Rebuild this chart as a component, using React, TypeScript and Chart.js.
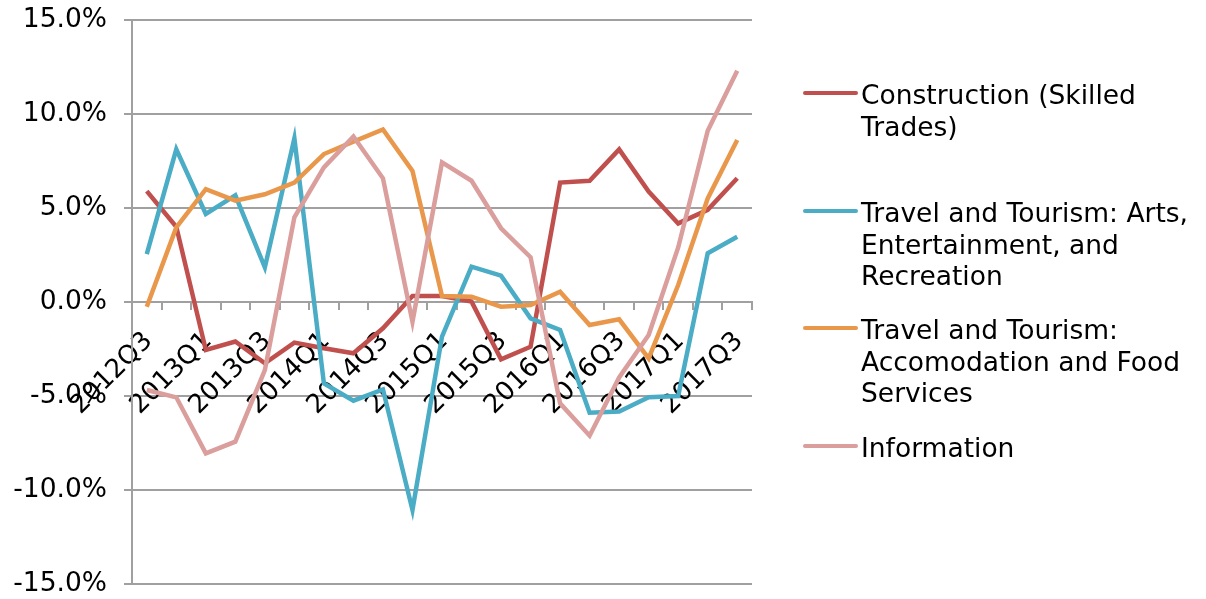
import React, { useEffect, useRef } from "react";
import { Chart, registerables } from "chart.js";

Chart.register(...registerables);

const categories = [
  "2012Q3", "2012Q4", "2013Q1", "2013Q2", "2013Q3", "2013Q4", "2014Q1",
  "2014Q2", "2014Q3", "2014Q4", "2015Q1", "2015Q2", "2015Q3", "2015Q4",
  "2016Q1", "2016Q2", "2016Q3", "2016Q4", "2017Q1", "2017Q2", "2017Q3",
];

const construction = [5.9, 4.0, -2.55, -2.1, -3.26, -2.16, -2.46, -2.73, -1.4, 0.32, 0.32, 0.02, -3.05, -2.38, 6.35, 6.45, 8.12, 5.87, 4.18, 4.9, 6.58];
const artsEntertainment = [2.55, 8.12, 4.68, 5.67, 1.84, 8.7, -4.33, -5.25, -4.65, -11.06, -1.84, 1.88, 1.4, -0.87, -1.49, -5.89, -5.83, -5.07, -5.0, 2.59, 3.47];
const accommodationFood = [-0.25, 3.97, 6.0, 5.39, 5.73, 6.35, 7.87, 8.53, 9.18, 6.97, 0.32, 0.28, -0.25, -0.16, 0.55, -1.22, -0.92, -3.0, 0.9, 5.51, 8.62];
const information = [-4.68, -5.07, -8.05, -7.43, -3.62, 4.5, 7.16, 8.8, 6.58, -1.05, 7.43, 6.45, 3.92, 2.38, -5.39, -7.11, -4.01, -1.76, 2.9, 9.11, 12.3];

const seriesNames = [
  "Construction (Skilled\nTrades)",
  "Travel and Tourism: Arts,\nEntertainment, and\nRecreation",
  "Travel and Tourism:\nAccomodation and Food\nServices",
  "Information",
];
const seriesColors = ["#C0504D", "#4BACC6", "#E9974B", "#DA9E9C"];

const yTicks = [-15, -10, -5, 0, 5, 10, 15];

const FONT = "'DejaVu Sans', Verdana, sans-serif";
const FONT_SIZE = 26.5;
const X_FONT_SIZE = 26;
const GRID = "#A0A0A0";

const legendTops = [79, 197, 314, 432];

export default function App() {
  const canvasRef = useRef<HTMLCanvasElement | null>(null);

  useEffect(() => {
    if (!canvasRef.current) return;
    const values = [construction, artsEntertainment, accommodationFood, information];
    const chart = new Chart(canvasRef.current, {
      type: "line",
      data: {
        labels: categories,
        datasets: values.map((d, i) => ({
          label: seriesNames[i].replace(/\n/g, " "),
          data: d,
          borderColor: seriesColors[i],
          backgroundColor: seriesColors[i],
          borderWidth: 4.5,
          pointRadius: 0,
          tension: 0,
          fill: false,
          order: values.length - 1 - i,
        })),
      },
      options: {
        responsive: false,
        animation: false,
        events: [],
        layout: { padding: { left: 0, right: 454, top: 20, bottom: 15 } },
        plugins: {
          legend: { display: false },
          tooltip: { enabled: false },
          title: { display: false },
        },
        scales: {
          x: {
            type: "category",
            position: { y: 0 } as any,
            offset: true,
            grid: {
              display: true,
              drawOnChartArea: false,
              drawTicks: true,
              tickLength: 7,
              color: GRID,
              lineWidth: 2,
              offset: true,
            },
            border: { display: true, color: GRID, width: 2 },
            afterFit: (s: any) => {
              s.paddingLeft = 0;
              s.paddingRight = 0;
            },
            ticks: {
              autoSkip: false,
              minRotation: 45,
              maxRotation: 45,
              color: "#000",
              padding: 17,
              labelOffset: 2,
              font: { family: FONT, size: X_FONT_SIZE },
              callback: (_v: any, i: number) => (i % 2 === 0 ? categories[i] : ""),
            },
          },
          y: {
            type: "linear",
            min: yTicks[0],
            max: yTicks[yTicks.length - 1],
            afterBuildTicks: (s: any) => {
              s.ticks = yTicks.map((v) => ({ value: v }));
            },
            afterFit: (s: any) => {
              s.width = 132;
              s.paddingTop = 0;
              s.paddingBottom = 0;
            },
            grid: { color: GRID, lineWidth: 2, tickLength: 8, drawTicks: true },
            border: { display: true, color: GRID, width: 2 },
            ticks: {
              color: "#000",
              padding: 17,
              font: { family: FONT, size: FONT_SIZE },
              callback: (v: any) => Number(v).toFixed(1) + "%",
            },
          },
        },
      },
    });
    return () => chart.destroy();
  }, []);

  return (
    <div style={{ position: "absolute", left: 0, top: 0, width: 1206, height: 599, background: "#fff" }}>
      <canvas ref={canvasRef} width={1206} height={599} style={{ position: "absolute", left: 0, top: 0, width: 1206, height: 599 }} />
      {seriesNames.map((name, i) => (
        <div key={i} style={{ position: "absolute", left: 803, top: legendTops[i], width: 403 }}>
          <div
            style={{
              position: "absolute",
              left: 0,
              top: 12,
              width: 55,
              height: 4.3,
              borderRadius: 2.2,
              background: seriesColors[i],
            }}
          />
          <div
            style={{
              position: "absolute",
              left: 58,
              top: 0,
              whiteSpace: "pre-line",
              fontFamily: FONT,
              fontSize: FONT_SIZE,
              lineHeight: "31.7px",
              color: "#000",
            }}
          >
            {name}
          </div>
        </div>
      ))}
    </div>
  );
}
